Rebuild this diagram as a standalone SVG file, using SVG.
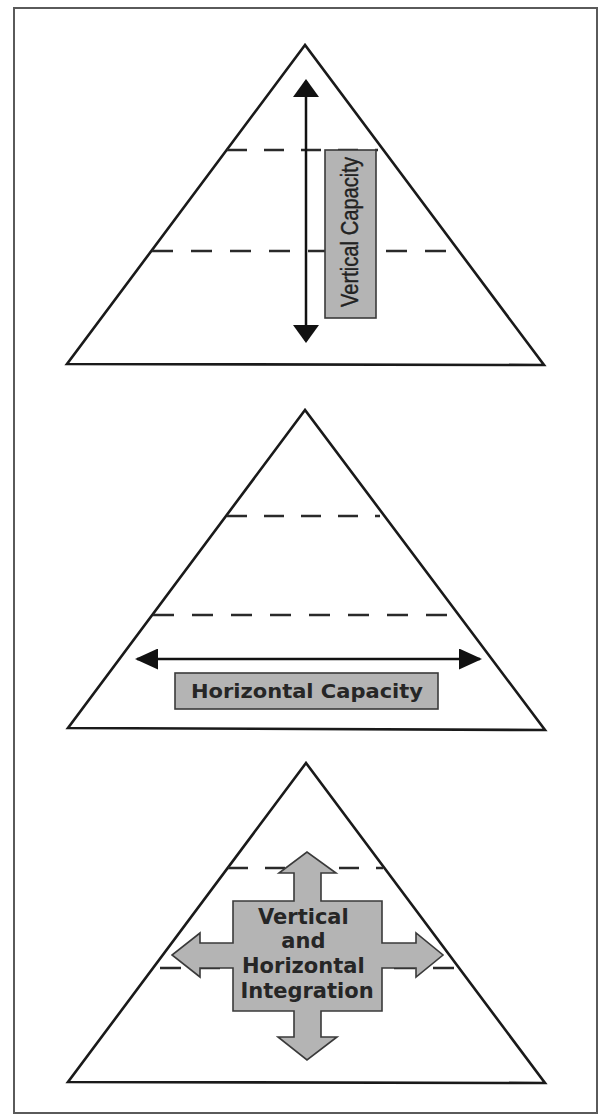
<svg xmlns="http://www.w3.org/2000/svg" width="602" height="1117" viewBox="0 0 602 1117">
<style>
.frame{fill:#fff;stroke:#5a5a5a;stroke-width:2}
.tri{fill:#fff;stroke:#1a1a1a;stroke-width:2.6;stroke-linejoin:miter}
.dash{stroke:#2a2a2a;stroke-width:2.5;fill:none;stroke-dasharray:21 18}
.box{fill:#b4b4b4;stroke:#3a3a3a;stroke-width:1.6}
.arr{stroke:#111;stroke-width:2.5;fill:none}
.lbl{font-family:"DejaVu Sans","Liberation Sans",sans-serif;font-weight:bold;fill:#262626;text-anchor:middle}
.vlbl{font-family:"Liberation Sans","DejaVu Sans",sans-serif;fill:#222;stroke:#222;stroke-width:0.4;text-anchor:middle}
</style>
<defs>
<marker id="headV" markerUnits="userSpaceOnUse" viewBox="0 0 18 26" markerWidth="18" markerHeight="26" refX="16" refY="13" orient="auto-start-reverse">
<path d="M0,0 L18,13 L0,26 Z" fill="#111"/>
</marker>
<marker id="headH" markerUnits="userSpaceOnUse" viewBox="0 0 23 21" markerWidth="23" markerHeight="21" refX="21" refY="10.5" orient="auto-start-reverse">
<path d="M0,0 L23,10.5 L0,21 Z" fill="#111"/>
</marker>
</defs>
<rect class="frame" x="14" y="8" width="583" height="1105"/>

<g id="pyramid-vertical">
<polygon class="tri" points="305,45 67,364 544,365"/>
<line class="dash" x1="227" y1="150" x2="378" y2="150" style="stroke-dasharray:20 17"/>
<line class="dash" x1="152" y1="251" x2="455" y2="251"/>
</g>

<g id="pyramid-horizontal">
<polygon class="tri" points="305,410 68,728 545,730"/>
<line class="dash" x1="227" y1="516" x2="380" y2="516" style="stroke-dasharray:20 17"/>
<line class="dash" x1="153" y1="615" x2="455" y2="615"/>
</g>

<g id="pyramid-integration">
<polygon class="tri" points="306,763 68,1082 545,1083"/>
<line class="dash" x1="228" y1="868" x2="383" y2="868" style="stroke-dasharray:20 17"/>
<line class="dash" x1="160" y1="968" x2="455" y2="968"/>
</g>

<g id="connectors">
<line class="arr" x1="306" y1="81" x2="306" y2="341" marker-start="url(#headV)" marker-end="url(#headV)"/>
<line class="arr" x1="137" y1="659" x2="480" y2="659" marker-start="url(#headH)" marker-end="url(#headH)"/>
</g>

<g id="label-vertical-capacity">
<rect class="box" x="325" y="150" width="51" height="168"/>
<text class="vlbl" transform="translate(358,232) rotate(-90)" font-size="23" textLength="150" lengthAdjust="spacingAndGlyphs">Vertical Capacity</text>
</g>

<g id="label-horizontal-capacity">
<rect class="box" x="175" y="673" width="263" height="36"/>
<text class="lbl" x="307" y="698" font-size="19" textLength="232" lengthAdjust="spacingAndGlyphs">Horizontal Capacity</text>
</g>

<g id="label-integration">
<path class="box" d="M233,901 L294,901 L294,873 L279,873 L307,852 L336,873 L321,873 L321,901 L382,901 L382,943 L416,943 L416,933 L443,955 L416,977 L416,968 L382,968 L382,1011 L321,1011 L321,1037 L337,1037 L307,1060 L278,1037 L294,1037 L294,1011 L233,1011 L233,968 L200,968 L200,977 L172,955 L200,933 L200,943 L233,943 Z"/>
<text class="lbl" font-size="21">
<tspan x="307" y="924">Vertical</tspan>
<tspan x="307" y="948">and</tspan>
<tspan x="307" y="973">Horizontal</tspan>
<tspan x="307" y="998">Integration</tspan>
</text>
</g>
</svg>
